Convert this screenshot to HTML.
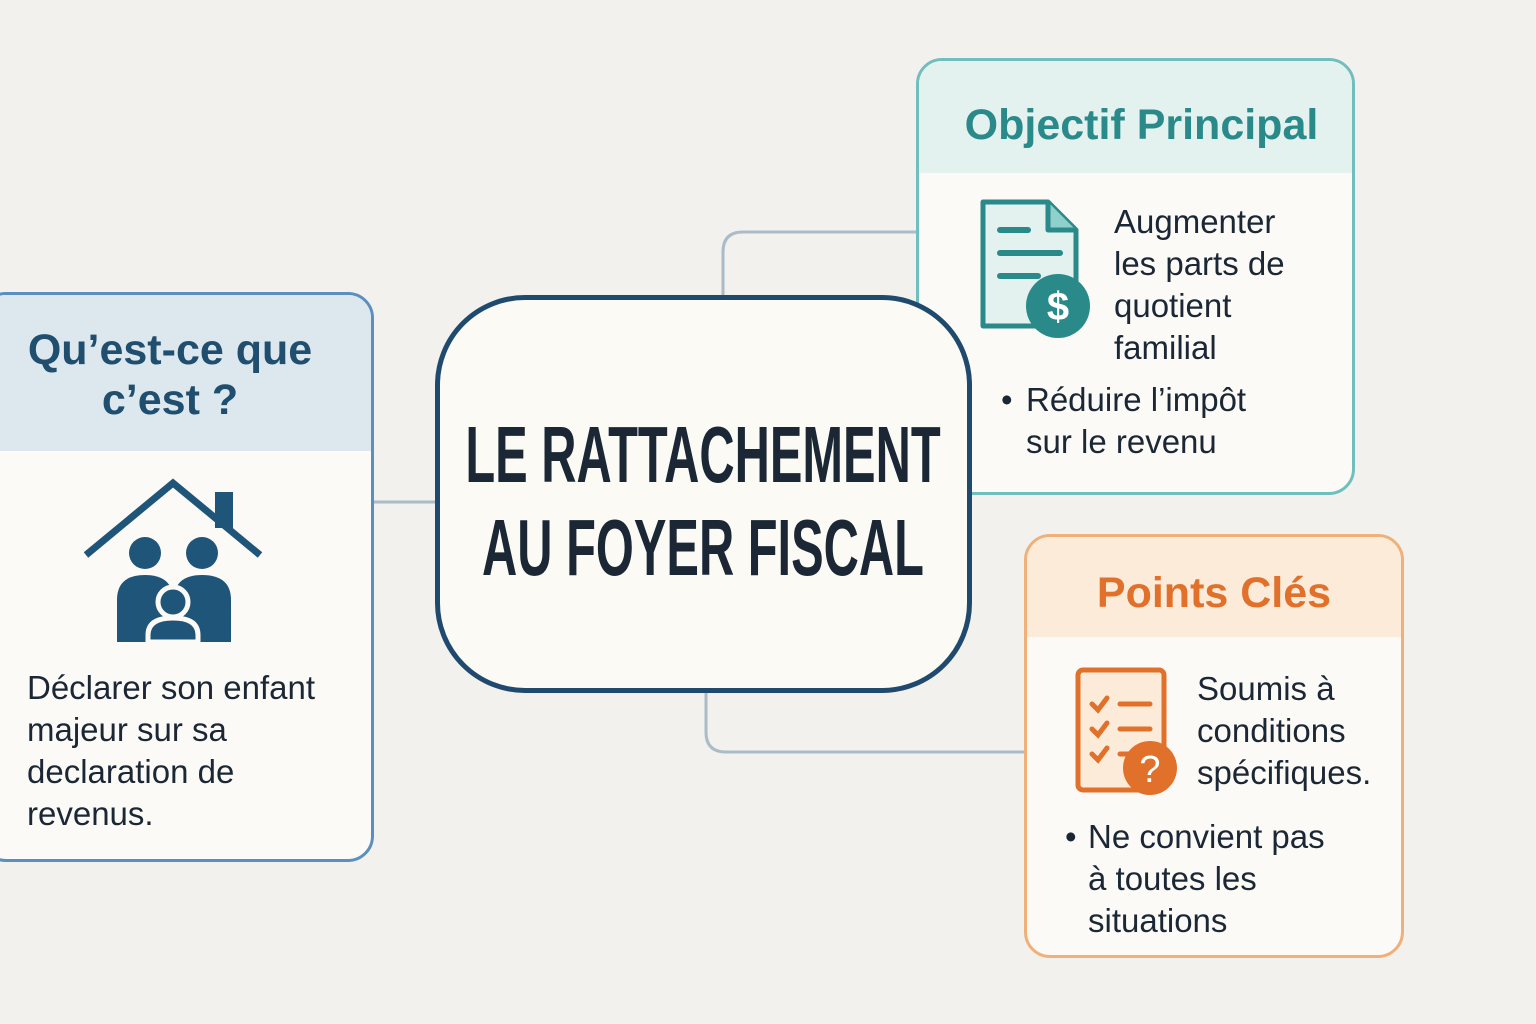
<!DOCTYPE html>
<html><head><meta charset="utf-8"><style>
html,body{margin:0;padding:0}
body{width:1536px;height:1024px;background:#f2f1ed;position:relative;overflow:hidden;font-family:"Liberation Sans","DejaVu Sans",sans-serif}
.card{position:absolute;box-sizing:border-box;background:#fbfaf6;overflow:hidden}
.hdr{position:absolute;left:0;right:0;top:0}
.t{position:absolute;white-space:nowrap;color:#1b2735;font-size:33px;line-height:42px}
</style></head><body>
<svg width="1536" height="1024" style="position:absolute;left:0;top:0">
<g fill="none" stroke="#a9bcc8" stroke-width="3">
<line x1="372" y1="502" x2="437" y2="502"/>
<path d="M723 296 V252 Q723 232 743 232 H918"/>
<path d="M706 692 V732 Q706 752 726 752 H1026"/>
</g>
</svg>

<!-- left card -->
<div class="card" style="left:-20px;top:292px;width:394px;height:570px;border:3px solid #5b8fbf;border-radius:26px">
 <div class="hdr" style="height:156px;background:#dde7ee"></div>
 <div class="t" style="left:0;width:374px;text-align:center;top:30px;font-size:43px;line-height:50px;font-weight:bold;color:#1f4e6e;white-space:normal">Qu’est-ce que<br>c’est ?</div>
 <div class="t" style="left:44px;top:372px;line-height:42px">Déclarer son enfant<br>majeur sur sa<br>declaration de<br>revenus.</div>
</div>
<svg width="200" height="180" style="position:absolute;left:80px;top:475px">
<g fill="#1f5578">
<polyline points="6,80 93,8 180,80" fill="none" stroke="#1f5578" stroke-width="7"/>
<rect x="135" y="17" width="18" height="36"/>
<circle cx="65" cy="78" r="16"/>
<circle cx="122" cy="78" r="16"/>
<path d="M37 167 V125 Q37 100 65 100 Q93 100 93 125 V167Z"/>
<path d="M94 167 V125 Q94 100 122 100 Q151 100 151 125 V167Z"/>
<circle cx="93" cy="127" r="15" stroke="#fbfaf6" stroke-width="5"/>
<path d="M68 167 V160 Q68 143 93 143 Q118 143 118 160 V167Z" stroke="#fbfaf6" stroke-width="5"/>
</g></svg>

<!-- top right -->
<div class="card" style="left:916px;top:58px;width:439px;height:437px;border:3px solid #6fbfbf;border-radius:26px">
 <div class="hdr" style="height:112px;background:#e3f1ef"></div>
 <div class="t" style="left:0;width:445px;text-align:center;top:37px;font-size:43px;line-height:54px;font-weight:bold;color:#2a8a8a">Objectif Principal</div>
 <div class="t" style="left:195px;top:140px">Augmenter<br>les parts de<br>quotient<br>familial</div>
 <div class="t" style="left:82px;top:318px">•</div>
 <div class="t" style="left:107px;top:318px">Réduire l’impôt<br>sur le revenu</div>
</div>
<svg width="120" height="150" style="position:absolute;left:978px;top:198px">
<path d="M5 4 H70 L98 32 V128 H5Z" fill="#e3f1ef" stroke="#2a8a8a" stroke-width="5" stroke-linejoin="round"/>
<path d="M70 4 V32 H98" fill="#8fd0cc" stroke="#2a8a8a" stroke-width="5" stroke-linejoin="round"/>
<g stroke="#2a8a8a" stroke-width="6" stroke-linecap="round"><line x1="22" y1="32" x2="50" y2="32"/><line x1="22" y1="55" x2="82" y2="55"/><line x1="22" y1="78" x2="60" y2="78"/></g>
<circle cx="80" cy="108" r="32" fill="#2a8a8a"/>
<text x="80" y="122" text-anchor="middle" font-size="40" font-weight="bold" fill="#fff" font-family="Liberation Sans">$</text>
</svg>

<!-- bottom right -->
<div class="card" style="left:1024px;top:534px;width:380px;height:424px;border:3px solid #f0b07a;border-radius:26px">
 <div class="hdr" style="height:100px;background:#fcebd9"></div>
 <div class="t" style="left:0;width:374px;text-align:center;top:30px;font-size:43px;line-height:52px;font-weight:bold;color:#e0702a">Points Clés</div>
 <div class="t" style="left:170px;top:131px">Soumis à<br>conditions<br>spécifiques.</div>
 <div class="t" style="left:38px;top:279px">•</div>
 <div class="t" style="left:61px;top:279px">Ne convient pas<br>à toutes les<br>situations</div>
</div>
<svg width="110" height="135" style="position:absolute;left:1074px;top:666px">
<rect x="4" y="4" width="86" height="120" rx="5" fill="#fcebd9" stroke="#e0702a" stroke-width="5"/>
<g stroke="#e0702a" stroke-width="5" fill="none" stroke-linecap="round">
<polyline points="18,38 24,44 33,32"/><line x1="46" y1="38" x2="76" y2="38"/>
<polyline points="18,63 24,69 33,57"/><line x1="46" y1="63" x2="76" y2="63"/>
<polyline points="18,88 24,94 33,82"/><line x1="46" y1="88" x2="60" y2="88"/>
</g>
<circle cx="76" cy="102" r="27" fill="#e0702a"/>
<text x="76" y="116" text-anchor="middle" font-size="38" fill="#fff" font-family="Liberation Sans">?</text>
</svg>

<!-- center (on top) -->
<div style="position:absolute;left:435px;top:295px;width:537px;height:398px;box-sizing:border-box;border:5px solid #1f4a6e;border-radius:90px;background:#fbfaf5"></div>
<div style="position:absolute;left:203px;top:408px;width:1000px;text-align:center;white-space:nowrap;font-weight:bold;font-size:80px;line-height:93px;color:#1b2735;transform:scaleX(0.61);transform-origin:center">LE RATTACHEMENT<br>AU FOYER FISCAL</div>
</body></html>
